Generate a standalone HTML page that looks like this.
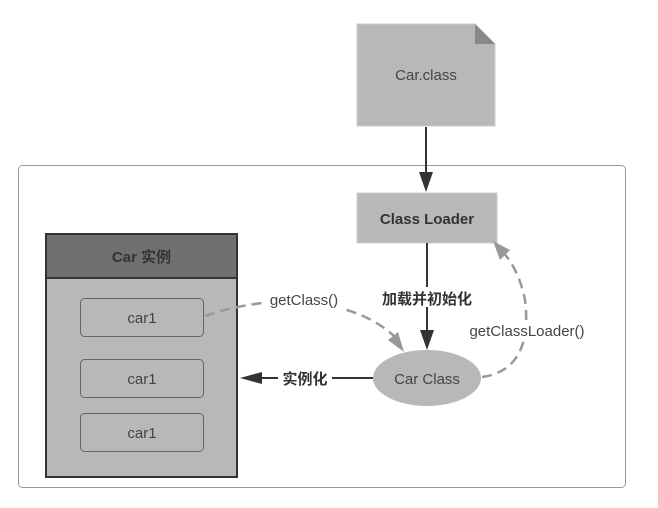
<!DOCTYPE html>
<html><head><meta charset="utf-8"><style>
body{margin:0;background:#fff;}
svg text{font-family:"Liberation Sans","Noto Sans CJK SC",sans-serif;}
</style></head><body>
<svg width="658" height="503" xmlns="http://www.w3.org/2000/svg">
<rect x="18.5" y="165.5" width="607" height="322" rx="4" fill="#fff" stroke="#999" stroke-width="1"/>
<!-- Car 实例 -->
<rect x="46" y="234" width="191" height="243" fill="#b8b8b8" stroke="#333" stroke-width="2"/>
<rect x="46" y="234" width="191" height="44" fill="#707070" stroke="#333" stroke-width="2"/>
<text x="141.5" y="262" font-size="15" font-weight="bold" fill="#333" text-anchor="middle">Car 实例</text>
<rect x="80.5" y="298.5" width="123" height="38" rx="4" fill="#b8b8b8" stroke="#666"/>
<text x="142" y="323" font-size="15" fill="#444" text-anchor="middle">car1</text>
<rect x="80.5" y="359.5" width="123" height="38" rx="4" fill="#b8b8b8" stroke="#666"/>
<text x="142" y="384" font-size="15" fill="#444" text-anchor="middle">car1</text>
<rect x="80.5" y="413.5" width="123" height="38" rx="4" fill="#b8b8b8" stroke="#666"/>
<text x="142" y="438" font-size="15" fill="#444" text-anchor="middle">car1</text>
<!-- Car.class -->
<path d="M357,24 L475,24 L495,44 L495,126 L357,126 z" fill="#b8b8b8" stroke="#ccc"/>
<path d="M475,24 L495,44 L475,44 z" fill="#888"/>
<text x="426" y="80" font-size="15" fill="#444" text-anchor="middle">Car.class</text>
<line x1="426" y1="127" x2="426" y2="180" stroke="#333" stroke-width="2"/>
<path d="M419,172 L433,172 L426,192 z" fill="#333"/>
<!-- Class Loader -->
<rect x="357" y="193" width="140" height="50" fill="#b8b8b8" stroke="#ccc"/>
<text x="427" y="224" font-size="15" font-weight="bold" fill="#333" text-anchor="middle">Class Loader</text>
<line x1="427" y1="243" x2="427" y2="336" stroke="#333" stroke-width="2"/>
<path d="M420,330 L434,330 L427,350 z" fill="#333"/>
<rect x="375" y="287" width="105" height="20" fill="#fff"/>
<text x="427" y="304" font-size="15" font-weight="bold" fill="#333" text-anchor="middle">加载并初始化</text>
<!-- Car Class -->
<ellipse cx="427" cy="378" rx="54" ry="28" fill="#b8b8b8"/>
<text x="427" y="384" font-size="15" fill="#444" text-anchor="middle">Car Class</text>
<!-- getClassLoader -->
<path d="M482,377 C520,372 530,340 525,300 C520,275 510,258 498,247" fill="none" stroke="#999" stroke-width="2.5" stroke-dasharray="10,6"/>
<path d="M493,241 L510,250 L500,260 z" fill="#999"/>
<rect x="462" y="320" width="130" height="20" fill="#fff"/>
<text x="527" y="336" font-size="15" fill="#444" text-anchor="middle">getClassLoader()</text>
<!-- getClass -->
<path d="M205,316 C280,290 360,300 398,340" fill="none" stroke="#999" stroke-width="2.5" stroke-dasharray="10,6"/>
<path d="M404,352 L388,340 L398,332 z" fill="#999"/>
<rect x="264" y="290" width="80" height="20" fill="#fff"/>
<text x="304" y="305" font-size="15" fill="#444" text-anchor="middle">getClass()</text>
<!-- 实例化 -->
<line x1="373" y1="378" x2="258" y2="378" stroke="#333" stroke-width="2"/>
<path d="M240,378 L262,372 L262,384 z" fill="#333"/>
<rect x="278" y="368" width="54" height="20" fill="#fff"/>
<text x="305" y="384" font-size="15" font-weight="bold" fill="#333" text-anchor="middle">实例化</text>
</svg>
</body></html>
